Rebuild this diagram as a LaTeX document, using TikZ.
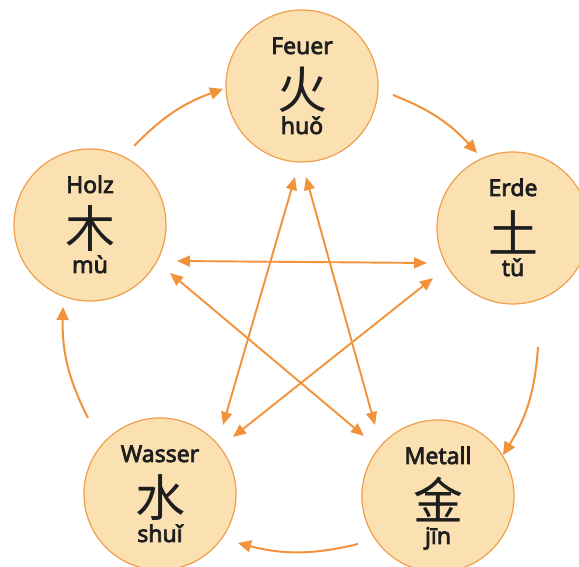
\documentclass[tikz,border=0pt]{standalone}
\usepackage{fontspec}
\setmainfont{Noto Sans}
\newfontfamily\labfont{Noto Sans}[FakeBold=3]
\newfontfamily\cjkfont{Noto Sans CJK SC}
\usetikzlibrary{arrows.meta,calc}
\definecolor{fillc}{HTML}{FBE1B2}
\definecolor{edgec}{HTML}{EF9E4A}
\definecolor{arrc}{HTML}{F2923A}
\definecolor{txtc}{HTML}{1E1E1E}
\tikzset{
  element/.style={circle, draw=edgec, line width=1.2pt, fill=fillc, minimum size=152pt, inner sep=0pt},
  titletxt/.style={anchor=base, font=\labfont\fontsize{23}{23}\selectfont, text=txtc},
  hanzi/.style={anchor=center, font=\cjkfont\fontsize{50}{50}\selectfont, text=txtc},
  pinyin/.style={anchor=base, font=\labfont\fontsize{23}{23}\selectfont, text=txtc},
  cyc/.style={draw=arrc, line width=2pt, -{Triangle[length=13pt,width=12pt]}},
  ctrl/.style={draw=arrc, line width=1.9pt, {Triangle[length=13pt,width=11pt]}-{Triangle[length=13pt,width=11pt]}}
}
\newcommand\wuxing[6]{%
  \node[element] (#1) at (#2,#3) {};
  \node[titletxt] (#1-t) at ($(#1)+(0,32)$) {#4};
  \node[hanzi] (#1-h) at ($(#1)+(0,-4)$) {#5};
  \node[pinyin] (#1-p) at ($(#1)+(0,-48)$) {#6};
}
\begin{document}
\begin{tikzpicture}[x=1pt,y=1pt]
\useasboundingbox (0,0) rectangle (579,567);
\clip (0,0) rectangle (579,567);
\fill[white] (0,0) rectangle (579,567);
\wuxing{feuer}{302}{481}{Feuer}{火}{huǒ}
\wuxing{holz}{90}{342}{Holz}{木}{mù}
\wuxing{erde}{513}{339}{Erde}{土}{tǔ}
\wuxing{wasser}{160}{73}{Wasser}{水}{shuǐ}
\wuxing{metall}{438}{71}{Metall}{金}{jīn}
% cycle connector ends
\coordinate (hf1) at (134,421); \coordinate (hf2) at (223,478);
\coordinate (fe1) at (393,472); \coordinate (fe2) at (477,414);
\coordinate (em1) at (538,220); \coordinate (em2) at (503,112);
\coordinate (mw1) at (358,23);  \coordinate (mw2) at (238,24);
\coordinate (wh1) at (88,149);  \coordinate (wh2) at (63,260);
\draw[cyc] (hf1) to[bend left=13] (hf2);
\draw[cyc] (fe1) to[bend left=13] (fe2);
\draw[cyc] (em1) to[bend left=14] (em2);
\draw[cyc] (mw1) to[bend left=14] (mw2);
\draw[cyc] (wh1) to[bend left=14] (wh2);
% star connector ends
\coordinate (he1) at (177,306); \coordinate (he2) at (427,304);
\coordinate (hm1) at (170,294); \coordinate (hm2) at (364,131);
\coordinate (ew1) at (433,289); \coordinate (ew2) at (233,130);
\coordinate (fw1) at (295,390); \coordinate (fw2) at (223,142);
\coordinate (fm1) at (306,390); \coordinate (fm2) at (375,142);
\draw[ctrl] (he1) -- (he2);
\draw[ctrl] (hm1) -- (hm2);
\draw[ctrl] (ew1) -- (ew2);
\draw[ctrl] (fw1) -- (fw2);
\draw[ctrl] (fm1) -- (fm2);
\end{tikzpicture}
\end{document}
